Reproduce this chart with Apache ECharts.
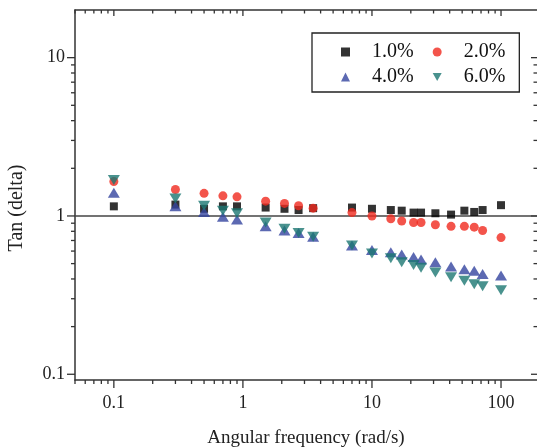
<!DOCTYPE html>
<html>
<head>
<meta charset="utf-8">
<script src="https://cdn.jsdelivr.net/npm/echarts@6/dist/echarts.min.js"></script>
<style>
  html, body { margin: 0; padding: 0; background: #fff; }
  #chart { width: 537px; height: 447px; }
</style>
</head>
<body>
<div id="chart"></div>
<script>
// angular frequency (rad/s)
const freq = [0.1, 0.3, 0.5, 0.7, 0.9, 1.5, 2.1, 2.7, 3.5, 7, 10, 14, 17, 21, 24, 31, 41, 52, 62, 72, 100];

// tan(delta) per concentration
const tan1 = [1.15, 1.18, 1.11, 1.15, 1.15, 1.13, 1.11, 1.09, 1.12, 1.13, 1.11, 1.09, 1.08, 1.05, 1.05, 1.04, 1.02, 1.08, 1.06, 1.09, 1.17];
const tan2 = [1.65, 1.47, 1.39, 1.34, 1.32, 1.24, 1.20, 1.16, 1.12, 1.05, 1.00, 0.96, 0.93, 0.91, 0.91, 0.88, 0.86, 0.86, 0.85, 0.81, 0.73];
const tan4 = [1.40, 1.15, 1.06, 0.99, 0.95, 0.86, 0.81, 0.78, 0.74, 0.65, 0.61, 0.59, 0.57, 0.55, 0.53, 0.51, 0.48, 0.46, 0.45, 0.43, 0.42];
const tan6 = [1.69, 1.29, 1.16, 1.08, 1.04, 0.91, 0.83, 0.78, 0.74, 0.65, 0.58, 0.54, 0.51, 0.49, 0.47, 0.44, 0.41, 0.39, 0.37, 0.36, 0.34];

const seriesNames = ['1.0%', '2.0%', '4.0%', '6.0%'];

// tick positions
const xMajorTicks = [0.1, 1, 10, 100];
const xMinorTicks = [0.05, 0.06, 0.07, 0.08, 0.09, 0.2, 0.3, 0.4, 0.5, 0.6, 0.7, 0.8, 0.9,
  2, 3, 4, 5, 6, 7, 8, 9, 20, 30, 40, 50, 60, 70, 80, 90];
const yMajorTicks = [0.1, 1, 10];
const yMinorTicks = [0.2, 0.3, 0.4, 0.5, 0.6, 0.7, 0.8, 0.9, 2, 3, 4, 5, 6, 7, 8, 9];

const X_MIN = 0.05, X_MAX = 190;
const Y_MIN = 0.092, Y_MAX = 20;

const FONT = 'Liberation Serif';
const AXIS_COLOR = '#333';

const zip = (xs, ys) => xs.map((x, i) => [x, ys[i]]);

// ticks as [value, isMajor, 1]
const xTickData = xMajorTicks.map(v => [v, 1, 1]).concat(xMinorTicks.map(v => [v, 0, 1]));
const yTickData = yMajorTicks.map(v => [v, 1, 1]).concat(yMinorTicks.map(v => [v, 0, 1]));

function line(x1, y1, x2, y2) {
  return { type: 'line', shape: { x1, y1, x2, y2 }, style: { stroke: AXIS_COLOR, lineWidth: 1.3 } };
}

function renderXTick(params, api) {
  const cs = params.coordSys;
  const x = api.coord([api.value(0), 1])[0];
  const major = api.value(1) === 1;
  const bottom = cs.y + cs.height;
  return {
    type: 'group',
    children: [
      line(x, bottom, x, bottom + (major ? 8 : 4)),   // outward, bottom
      line(x, cs.y, x, cs.y + (major ? 6 : 3.5))      // inward, top
    ]
  };
}

function renderYTick(params, api) {
  const cs = params.coordSys;
  const y = api.coord([1, api.value(0)])[1];
  const major = api.value(1) === 1;
  const right = cs.x + cs.width;
  return {
    type: 'group',
    children: [
      line(cs.x, y, cs.x - (major ? 8 : 4), y),       // outward, left
      line(right, y, right - (major ? 6 : 3.5), y)    // inward, right
    ]
  };
}

const isDecade = v => Math.abs(Math.log10(v) - Math.round(Math.log10(v))) < 1e-6;

const downTriangle = 'path://M0,0 L10,0 L5,9 Z';

const chart = echarts.init(document.getElementById('chart'));

chart.setOption({
  animation: false,
  backgroundColor: '#fff',
  grid: { left: 75, top: 10, right: 0, bottom: 67, containLabel: false, outerBoundsMode: 'none' },
  legend: {
    data: seriesNames,
    left: 312,
    top: 33,
    width: 190,
    orient: 'horizontal',
    itemWidth: 9,
    itemHeight: 9,
    itemGap: 5,
    padding: [9, 0, 5, 29],
    borderColor: '#222',
    borderWidth: 1.3,
    selectedMode: false,
    // trailing spaces widen each entry so the second column sits further right
    formatter: name => name + '  \u2009',
    textStyle: { fontFamily: FONT, fontSize: 20, color: '#111', padding: [0, 0, 0, 17] }
  },
  xAxis: [
    {
      type: 'log',
      logBase: 10,
      min: X_MIN,
      max: X_MAX,
      position: 'bottom',
      name: 'Angular frequency (rad/s)',
      nameLocation: 'middle',
      nameGap: 49,
      nameTextStyle: { fontFamily: FONT, fontSize: 19, color: '#222' },
      axisLine: { show: true, lineStyle: { color: AXIS_COLOR, width: 1.5 } },
      axisTick: { show: false },
      splitLine: { show: false },
      axisLabel: {
        margin: 14,
        fontFamily: FONT,
        fontSize: 18,
        color: '#222',
        formatter: v => (isDecade(v) ? String(+v.toPrecision(6)) : '')
      }
    },
    {
      type: 'log',
      logBase: 10,
      min: X_MIN,
      max: X_MAX,
      position: 'top',
      axisLine: { show: true, lineStyle: { color: AXIS_COLOR, width: 1.5 } },
      axisTick: { show: false },
      axisLabel: { show: false },
      splitLine: { show: false }
    }
  ],
  yAxis: [
    {
      type: 'log',
      logBase: 10,
      min: Y_MIN,
      max: Y_MAX,
      position: 'left',
      name: 'Tan (delta)',
      nameLocation: 'middle',
      nameGap: 48,
      nameTextStyle: { fontFamily: FONT, fontSize: 20, color: '#222', padding: [0, 26, 0, 0] },
      axisLine: { show: true, lineStyle: { color: AXIS_COLOR, width: 1.5 } },
      axisTick: { show: false },
      splitLine: { show: false },
      axisLabel: {
        margin: 10,
        fontFamily: FONT,
        fontSize: 18,
        color: '#222',
        formatter: v => (isDecade(v) ? String(+v.toPrecision(6)) : '')
      }
    }
  ],
  series: [
    {
      name: 'xticks',
      type: 'custom',
      silent: true,
      clip: false,
      renderItem: renderXTick,
      encode: { x: 0, y: 2 },
      data: xTickData,
      z: 1
    },
    {
      name: 'yticks',
      type: 'custom',
      silent: true,
      clip: false,
      renderItem: renderYTick,
      encode: { x: 2, y: 0 },
      data: yTickData,
      z: 1
    },
    {
      name: seriesNames[0],
      type: 'scatter',
      symbol: 'rect',
      symbolSize: 8,
      itemStyle: { color: '#000' },
      data: zip(freq, tan1),
      z: 3,
      markLine: {
        silent: true,
        symbol: 'none',
        label: { show: false },
        lineStyle: { color: '#444', type: 'solid', width: 1.5 },
        data: [{ yAxis: 1 }],
        z: 2
      }
    },
    {
      name: seriesNames[1],
      type: 'scatter',
      symbol: 'circle',
      symbolSize: 9,
      itemStyle: { color: '#f0291e' },
      data: zip(freq, tan2),
      z: 3
    },
    {
      name: seriesNames[2],
      type: 'scatter',
      symbol: 'triangle',
      symbolSize: [12, 10],
      itemStyle: { color: '#33439f' },
      data: zip(freq, tan4),
      z: 3
    },
    {
      name: seriesNames[3],
      type: 'scatter',
      symbol: downTriangle,
      symbolSize: [12, 10],
      itemStyle: { color: '#1b7772' },
      data: zip(freq, tan6),
      z: 3
    }
  ]
});
</script>
</body>
</html>
